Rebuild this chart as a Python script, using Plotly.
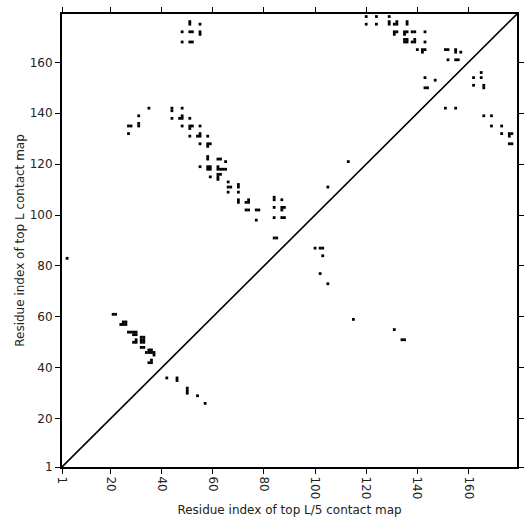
import plotly.graph_objects as go

# Top L contact map (upper triangle, y > x)
topL_x = [51, 51, 55, 48, 51, 52, 55, 55, 48, 51, 52,
          35, 44, 44, 48, 31, 44, 47, 48, 48, 51,
          27, 28, 31, 31, 27, 48, 51, 52, 51, 55,
          51, 54, 55, 55, 58, 55, 58, 59, 58,
          58, 58, 62, 63, 65, 55, 58, 59, 58, 59,
          62, 62, 63, 64, 65, 59, 62, 63, 62, 62,
          66, 66, 67, 70, 70, 66, 70, 70, 70,
          74, 74, 73, 73, 74, 77, 78, 77,
          84, 84, 87, 84, 87, 88, 87, 84, 87, 88,
          84, 85, 113, 105,
          3, 21, 22, 24, 25, 25, 26, 26,
          27, 28, 29, 30, 29, 30, 29, 30, 30,
          32, 33, 32, 33, 32, 33, 32, 33, 34, 35, 35, 36, 36, 37, 37, 35, 36, 36,
          120, 120, 124, 124, 129, 129, 129, 131, 132, 132, 136, 136,
          131, 132, 131, 135, 136, 135, 138, 139, 143,
          135, 136, 135, 136, 139, 139, 138, 143,
          140, 142, 143, 142, 151, 152, 155, 155, 157,
          152, 155, 156, 143, 147, 143, 144, 151, 155]
topL_y = [176, 175, 175, 172, 172, 172, 172, 171, 168, 168, 168,
          142, 142, 141, 142, 139, 138, 138, 138, 139, 138,
          135, 135, 135, 136, 132, 135, 135, 135, 134, 135,
          131, 131, 131, 132, 131, 128, 128, 128, 127,
          123, 122, 122, 122, 121, 119, 119, 119, 118, 118,
          119, 118, 118, 118, 118, 115, 116, 116, 115, 114,
          113, 111, 111, 111, 112, 109, 109, 106, 105,
          106, 105, 105, 102, 102, 102, 102, 98,
          107, 106, 106, 103, 103, 103, 102, 99, 99, 99,
          91, 91, 121, 111,
          83, 61, 61, 57, 57, 58, 58, 57,
          54, 54, 54, 54, 53, 53, 50, 50, 51,
          51, 51, 52, 52, 50, 50, 48, 48, 46, 46, 47, 46, 47, 46, 45, 42, 42, 43,
          178, 175, 178, 175, 178, 176, 175, 175, 175, 176, 176, 175,
          172, 172, 171, 172, 172, 171, 172, 172, 172,
          169, 169, 168, 168, 169, 168, 168, 168,
          165, 165, 165, 164, 165, 165, 165, 164, 164,
          161, 161, 161, 154, 153, 150, 150, 142, 142]

# Top L/5 contact map (lower triangle, x > y)
topL5_x = [100, 102, 103, 103, 102, 105, 115, 131, 134, 135,
           42, 46, 46, 50, 50, 50, 54, 57,
           162, 165, 165, 162, 166, 166,
           166, 169, 169, 173, 173, 176, 176, 177, 176, 177]
topL5_y = [87, 87, 87, 84, 77, 73, 59, 55, 51, 51,
           36, 36, 35, 32, 31, 30, 29, 26,
           154, 156, 154, 151, 151, 150,
           139, 139, 135, 135, 132, 132, 131, 132, 128, 128]

seq_len = 179
tick_vals = [1, 20, 40, 60, 80, 100, 120, 140, 160]

fig = go.Figure()
fig.add_trace(go.Scatter(x=[1, seq_len], y=[1, seq_len], mode="lines",
                         line=dict(color="black", width=1.6), hoverinfo="skip"))
fig.add_trace(go.Scatter(x=topL_x, y=topL_y, mode="markers",
                         marker=dict(symbol="square", size=2.8, color="black", line=dict(width=0))))
fig.add_trace(go.Scatter(x=topL5_x, y=topL5_y, mode="markers",
                         marker=dict(symbol="square", size=2.8, color="black", line=dict(width=0))))

axis_common = dict(range=[1, seq_len], tickvals=tick_vals, ticktext=[str(v) for v in tick_vals],
                   showline=True, linewidth=2, linecolor="black", mirror="ticks",
                   ticks="outside", ticklen=5, tickwidth=1, tickcolor="black",
                   showgrid=False, zeroline=False, automargin=False,
                   tickfont=dict(family="DejaVu Sans", size=12, color="#222"))

fig.update_layout(
    width=531, height=531,
    margin=dict(l=62, r=14, t=14, b=64),
    paper_bgcolor="white", plot_bgcolor="white",
    showlegend=False,
    font=dict(family="DejaVu Sans", size=12, color="#222"),
    xaxis=dict(**axis_common, tickangle=90,
               title=dict(text="Residue index of top L/5 contact map", standoff=7,
                          font=dict(family="DejaVu Sans", size=12, color="#222"))),
    yaxis=dict(**axis_common,
               title=dict(text="Residue index of top L contact map", standoff=2,
                          font=dict(family="DejaVu Sans", size=12, color="#222"))),
)

fig.write_html("out.html", config={"displayModeBar": False},
               post_script="document.body.style.margin='0';document.body.style.overflow='hidden';")
